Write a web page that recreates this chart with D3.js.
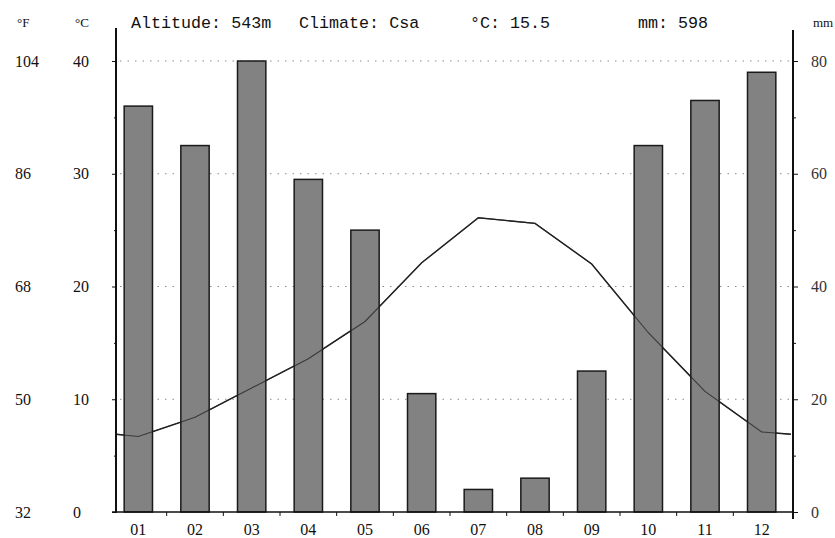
<!DOCTYPE html>
<html>
<head>
<meta charset="utf-8">
<script src="https://cdn.jsdelivr.net/npm/d3@7"></script>
<style>
  body { margin: 0; background: #fff; }
  svg { display: block; }
</style>
</head>
<body>
<svg id="chart" width="835" height="538"></svg>
<script>
const months = ['01', '02', '03', '04', '05', '06', '07', '08', '09', '10', '11', '12']
const precip = [72, 65, 80, 59, 50, 21, 4, 6, 25, 65, 73, 78]
const temp = [6.7, 8.4, 11.0, 13.6, 16.9, 22.1, 26.1, 25.6, 22.0, 15.9, 10.7, 7.1]
const cTicks = [0, 10, 20, 30, 40]
const fTicks = [32, 50, 68, 86, 104]
const mmTicks = [0, 20, 40, 60, 80]
const header = [
  { text: 'Altitude: 543m', x: 131 },
  { text: 'Climate: Csa', x: 299 },
  { text: '°C: 15.5', x: 470 },
  { text: 'mm: 598', x: 638 }
]

const left = 116, right = 793
const top0 = 61, bottom = 512

const svg = d3.select('#chart')

const x = d3.scaleBand().domain(months).range([110, 790]).paddingInner(0.5).paddingOuter(0.25)
const yT = d3.scaleLinear().domain([0, 40]).range([bottom, top0])
const yP = d3.scaleLinear().domain([0, 80]).range([bottom, top0])

// dotted grid
svg.append('g')
  .selectAll('line')
  .data(cTicks.filter(d => d > 0))
  .join('line')
  .attr('x1', left + 4).attr('x2', right - 2)
  .attr('y1', d => yT(d)).attr('y2', d => yT(d))
  .attr('stroke', '#8a8a8a')
  .attr('stroke-width', 1)
  .attr('stroke-dasharray', '1.5,6')

// temperature line (ends wrap to the Dec/Jan mean at the axes)
const edge = (temp[0] + temp[11]) / 2
const linePts = [[left, yT(edge)]]
  .concat(months.map((m, i) => [x(m) + x.bandwidth() / 2, yT(temp[i])]))
  .concat([[right - 2, yT(edge)]])
svg.append('path')
  .attr('d', d3.line()(linePts))
  .attr('fill', 'none')
  .attr('stroke', '#222')
  .attr('stroke-width', 1.4)

// precipitation bars
svg.append('g')
  .selectAll('rect')
  .data(precip)
  .join('rect')
  .attr('x', (d, i) => x(months[i]))
  .attr('width', x.bandwidth())
  .attr('y', d => yP(d))
  .attr('height', d => bottom - yP(d))
  .attr('fill', '#828282')
  .attr('stroke', '#1a1a1a')
  .attr('stroke-width', 1.5)

// line shows through the bars
svg.append('path')
  .attr('d', d3.line()(linePts))
  .attr('fill', 'none')
  .attr('stroke', '#222')
  .attr('stroke-width', 1.1)
  .attr('opacity', 0.75)

// left axis
const axL = svg.append('g').attr('transform', `translate(${left},0)`)
  .call(d3.axisLeft(yT).tickValues(d3.range(0, 41, 5)).tickFormat('').tickSizeOuter(0)
    .tickSize(4))
axL.select('.domain').remove()
axL.selectAll('.tick line').attr('stroke', '#111').attr('x2', d => d % 10 ? -2 : -4)
axL.append('line').attr('x1', 0).attr('x2', 0).attr('y1', 28).attr('y2', bottom + 1)
  .attr('stroke', '#111').attr('stroke-width', 2)

// right axis
const axR = svg.append('g').attr('transform', `translate(${right},0)`)
  .call(d3.axisRight(yP).tickValues(d3.range(0, 81, 10)).tickFormat('').tickSizeOuter(0)
    .tickSize(4))
axR.select('.domain').remove()
axR.selectAll('.tick line').attr('stroke', '#111').attr('x2', d => d % 20 ? 3 : 5)
axR.append('line').attr('x1', 0).attr('x2', 0).attr('y1', 30).attr('y2', bottom + 7)
  .attr('stroke', '#111').attr('stroke-width', 2)

// bottom axis
const axB = svg.append('g').attr('transform', `translate(0,${bottom})`)
axB.append('line').attr('x1', left - 4).attr('x2', right).attr('y1', 0).attr('y2', 0)
  .attr('stroke', '#111').attr('stroke-width', 1.5)
axB.selectAll('line.tk')
  .data(months.slice(1))
  .join('line')
  .attr('class', 'tk')
  .attr('x1', d => x(d) - x.step() * x.paddingInner() / 2)
  .attr('x2', d => x(d) - x.step() * x.paddingInner() / 2)
  .attr('y1', 0).attr('y2', 4)
  .attr('stroke', '#111')
axB.selectAll('text')
  .data(months)
  .join('text')
  .attr('x', d => x(d) + x.bandwidth() / 2)
  .attr('y', 23)
  .attr('text-anchor', 'middle')
  .attr('font-family', '"Liberation Serif", serif')
  .attr('font-size', 16)
  .attr('fill', '#111')
  .text(d => d)

// tick labels
const labelFont = '"Liberation Serif", serif'
svg.append('g').selectAll('text')
  .data(cTicks)
  .join('text')
  .attr('x', 73).attr('y', d => yT(d)).attr('dy', '0.35em')
  .attr('font-family', labelFont).attr('font-size', 16).attr('fill', '#111')
  .text(d => d)
svg.append('g').selectAll('text')
  .data(fTicks)
  .join('text')
  .attr('x', 15).attr('y', (d, i) => yT(cTicks[i])).attr('dy', '0.35em')
  .attr('font-family', labelFont).attr('font-size', 16).attr('fill', '#111')
  .text(d => d)
svg.append('g').selectAll('text')
  .data(mmTicks)
  .join('text')
  .attr('x', 811).attr('y', d => yP(d)).attr('dy', '0.35em')
  .attr('font-family', labelFont).attr('font-size', 16).attr('fill', '#333')
  .text(d => d)

// unit labels
const units = [
  { text: '°F', x: 17 },
  { text: '°C', x: 75 },
  { text: 'mm', x: 813 }
]
svg.append('g').selectAll('text')
  .data(units)
  .join('text')
  .attr('x', d => d.x).attr('y', 27)
  .attr('font-family', labelFont).attr('font-size', 13).attr('fill', '#111')
  .text(d => d.text)

// header
svg.append('g').selectAll('text')
  .data(header)
  .join('text')
  .attr('x', d => d.x).attr('y', 28)
  .attr('font-family', '"Liberation Mono", monospace')
  .attr('font-size', 16.7)
  .attr('fill', '#111')
  .text(d => d.text)
</script>
</body>
</html>
